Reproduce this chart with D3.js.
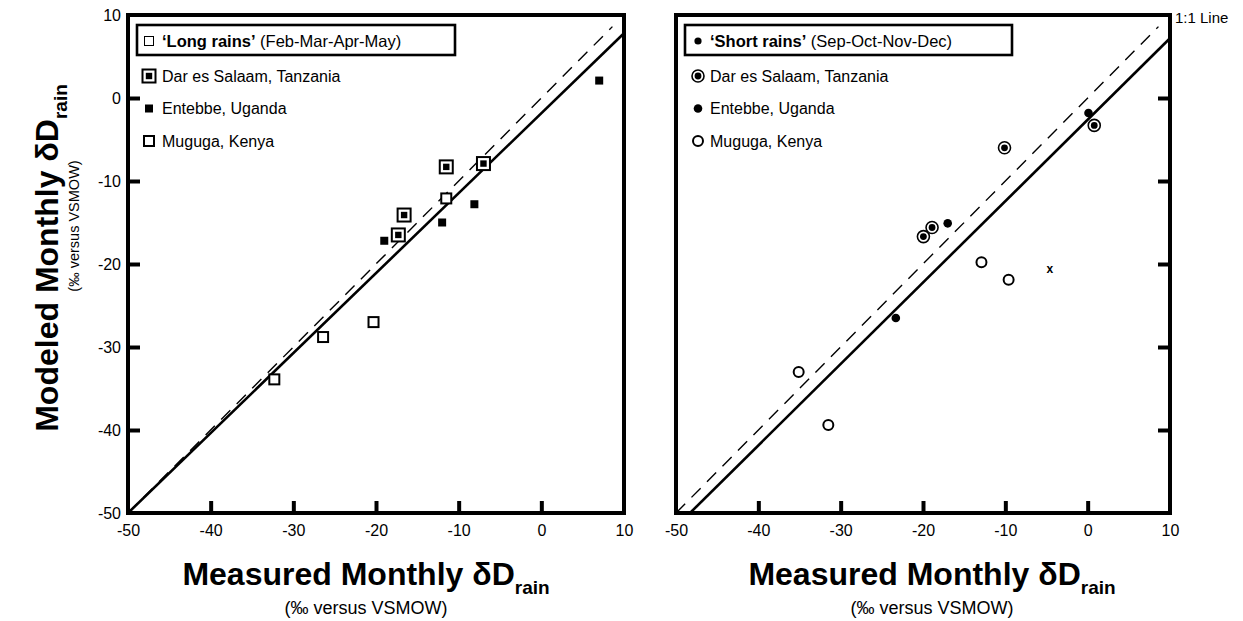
<!DOCTYPE html>
<html>
<head>
<meta charset="utf-8">
<script src="https://cdn.jsdelivr.net/npm/d3@7"></script>
<style>
body { margin: 0; background: #fff; }
svg text { font-family: "Liberation Sans", Arial, Helvetica, sans-serif; fill: #000; }
</style>
</head>
<body>
<div id="graph"></div>
<script>
// values, [measured, modeled]
var longDar = [[-11.5, -8.3], [-7.0, -7.9], [-16.6, -14.1], [-17.3, -16.5]]
var longEntebbe = [[7.0, 2.1], [-8.1, -12.8], [-12.0, -15.0], [-19.0, -17.2]]
var longMuguga = [[-11.5, -12.1], [-20.3, -27.0], [-26.4, -28.8], [-32.3, -33.9]]
var longFit = [[-50, -50], [10, 7.8]]

var shortDar = [[-10.1, -6.0], [0.8, -3.3], [-18.9, -15.6], [-19.95, -16.7]]
var shortEntebbe = [[0.1, -1.8], [-17.0, -15.1], [-23.3, -26.5]]
var shortMuguga = [[-12.9, -19.8], [-9.6, -21.9], [-35.1, -33.0], [-31.5, -39.4]]
var shortCross = [[-4.6, -20.6]]
var shortFit = [[-48.3, -50], [10, 7.2]]

var oneToOne = [[-50, -50], [8.6, 8.6]]
var tickLabels = [-50, -40, -30, -20, -10, 0, 10]
var innerTicks = [-40, -30, -20, -10, 0]
var sites = ["Dar es Salaam, Tanzania", "Entebbe, Uganda", "Muguga, Kenya"]

var width = 1243, height = 621
var svg = d3.select("#graph").append("svg").attr("width", width).attr("height", height)

var y = d3.scaleLinear().domain([-50, 10]).range([513, 15])
var xL = d3.scaleLinear().domain([-50, 10]).range([128, 624])
var xR = d3.scaleLinear().domain([-50, 10]).range([676, 1170])

function frame(x) {
    svg.append("rect")
        .attr("x", x.range()[0]).attr("y", y.range()[1])
        .attr("width", x.range()[1] - x.range()[0])
        .attr("height", y.range()[0] - y.range()[1])
        .attr("fill", "none").attr("stroke", "#000").attr("stroke-width", 4)
}

function bottomAxis(x) {
    var g = svg.append("g")
        .attr("transform", "translate(0," + y.range()[0] + ")")
        .call(d3.axisBottom(x).tickValues(tickLabels).tickSize(-12).tickPadding(12).tickFormat(function(d) { return String(d) }))
    styleAxis(g)
}

function styleAxis(g) {
    g.select(".domain").remove()
    g.selectAll(".tick line").attr("stroke", "#000").attr("stroke-width", 4)
        .filter(function(d) { return innerTicks.indexOf(d) < 0 }).remove()
    g.selectAll("text").attr("font-size", 16).attr("font-family", "Liberation Sans, Arial, sans-serif")
}

function lines(x, fit) {
    var line = d3.line().x(function(d) { return x(d[0]) }).y(function(d) { return y(d[1]) })
    svg.append("path").attr("d", line(oneToOne))
        .attr("fill", "none").attr("stroke", "#000").attr("stroke-width", 1.4)
        .attr("stroke-dasharray", "13,9")
    svg.append("path").attr("d", line(fit))
        .attr("fill", "none").attr("stroke", "#000").attr("stroke-width", 2.6)
}

// square markers
function squares(x, data, kind) {
    var g = svg.append("g")
    data.forEach(function(d) { squareMark(g, x(d[0]), y(d[1]), kind) })
}

function squareMark(g, cx, cy, kind) {
    if (kind == "dar") {
        g.append("rect").attr("x", cx - 6.5).attr("y", cy - 6.5).attr("width", 13).attr("height", 13)
            .attr("fill", "#fff").attr("stroke", "#000").attr("stroke-width", 2)
        g.append("rect").attr("x", cx - 3.2).attr("y", cy - 3.2).attr("width", 6.4).attr("height", 6.4).attr("fill", "#000")
    } else if (kind == "ent") {
        g.append("rect").attr("x", cx - 4).attr("y", cy - 4).attr("width", 8).attr("height", 8).attr("fill", "#000")
    } else if (kind == "title") {
        g.append("rect").attr("x", cx - 4.5).attr("y", cy - 4.5).attr("width", 9).attr("height", 9)
            .attr("fill", "#fff").attr("stroke", "#000").attr("stroke-width", 1)
    } else {
        g.append("rect").attr("x", cx - 5).attr("y", cy - 5).attr("width", 10).attr("height", 10)
            .attr("fill", "#fff").attr("stroke", "#000").attr("stroke-width", 2)
    }
}

function circles(x, data, kind) {
    var g = svg.append("g")
    data.forEach(function(d) { circleMark(g, x(d[0]), y(d[1]), kind) })
}

function circleMark(g, cx, cy, kind) {
    if (kind == "dar") {
        g.append("circle").attr("cx", cx).attr("cy", cy).attr("r", 6)
            .attr("fill", "#fff").attr("stroke", "#000").attr("stroke-width", 1.6)
        g.append("circle").attr("cx", cx).attr("cy", cy).attr("r", 3.4).attr("fill", "#000")
    } else if (kind == "ent") {
        g.append("circle").attr("cx", cx).attr("cy", cy).attr("r", 4.3).attr("fill", "#000")
    } else if (kind == "title") {
        g.append("circle").attr("cx", cx).attr("cy", cy).attr("r", 3.6).attr("fill", "#000")
    } else {
        g.append("circle").attr("cx", cx).attr("cy", cy).attr("r", 5)
            .attr("fill", "#fff").attr("stroke", "#000").attr("stroke-width", 2)
    }
}

function legend(x0, boxRight, markX, textX, bold, rest, markFn) {
    svg.append("rect").attr("x", x0).attr("y", 25).attr("width", boxRight - x0).attr("height", 30)
        .attr("fill", "#fff").attr("stroke", "#000").attr("stroke-width", 2.6)
    var g = svg.append("g")
    markFn(g, markX, 41, "title")
    var t = g.append("text").attr("x", textX).attr("y", 46.5).attr("font-size", 16.5)
    t.append("tspan").attr("font-weight", "bold").text(bold)
    t.append("tspan").text(rest)
    var rows = [76, 108.5, 141]
    var kinds = ["dar", "ent", "mug"]
    sites.forEach(function(s, i) {
        markFn(g, markX, rows[i], kinds[i])
        g.append("text").attr("x", textX).attr("y", rows[i] + 5.5).attr("font-size", 16).text(s)
    })
}

// left panel: long rains
lines(xL, longFit)
squares(xL, longMuguga, "mug")
squares(xL, longDar, "dar")
squares(xL, longEntebbe, "ent")
frame(xL)
bottomAxis(xL)
var ga = svg.append("g").attr("transform", "translate(" + xL.range()[0] + ",0)")
    .call(d3.axisLeft(y).tickValues(tickLabels).tickSize(-12).tickPadding(7).tickFormat(function(d) { return String(d) }))
styleAxis(ga)
legend(137, 455, 149, 162, "\u2018Long rains\u2019", " (Feb-Mar-Apr-May)", squareMark)

// right panel: short rains
lines(xR, shortFit)
circles(xR, shortMuguga, "mug")
circles(xR, shortDar, "dar")
circles(xR, shortEntebbe, "ent")
svg.append("g").selectAll("text").data(shortCross).enter().append("text")
    .attr("x", function(d) { return xR(d[0]) }).attr("y", function(d) { return y(d[1]) + 4 })
    .attr("text-anchor", "middle").attr("font-size", 12).attr("font-weight", "bold").text("x")
frame(xR)
bottomAxis(xR)
var gr = svg.append("g").attr("transform", "translate(" + xR.range()[1] + ",0)")
    .call(d3.axisRight(y).tickValues(tickLabels).tickSize(-12).tickFormat(""))
styleAxis(gr)
legend(685, 1012, 698, 710, "\u2018Short rains\u2019", " (Sep-Oct-Nov-Dec)", circleMark)

svg.append("text").attr("x", 1175).attr("y", 23).attr("font-size", 15).text("1:1 Line")

// axis titles
function xTitle(cx) {
    var t = svg.append("text").attr("x", cx).attr("y", 585).attr("text-anchor", "middle")
        .attr("font-size", 32).attr("font-weight", "bold")
    t.append("tspan").text("Measured Monthly \u03b4D")
    t.append("tspan").attr("dy", 9).attr("font-size", 19).text("rain")
    svg.append("text").attr("x", cx).attr("y", 614).attr("text-anchor", "middle")
        .attr("font-size", 18).text("(\u2030 versus VSMOW)")
}
xTitle(366)
xTitle(932)

var yt = svg.append("g").attr("transform", "translate(58,258) rotate(-90)")
var t = yt.append("text").attr("text-anchor", "middle").attr("font-size", 32).attr("font-weight", "bold")
t.append("tspan").text("Modeled Monthly \u03b4D")
t.append("tspan").attr("dy", 9).attr("font-size", 19).text("rain")
svg.append("g").attr("transform", "translate(79,226) rotate(-90)")
    .append("text").attr("text-anchor", "middle").attr("font-size", 14.5).text("(\u2030 versus VSMOW)")
</script>
</body>
</html>
